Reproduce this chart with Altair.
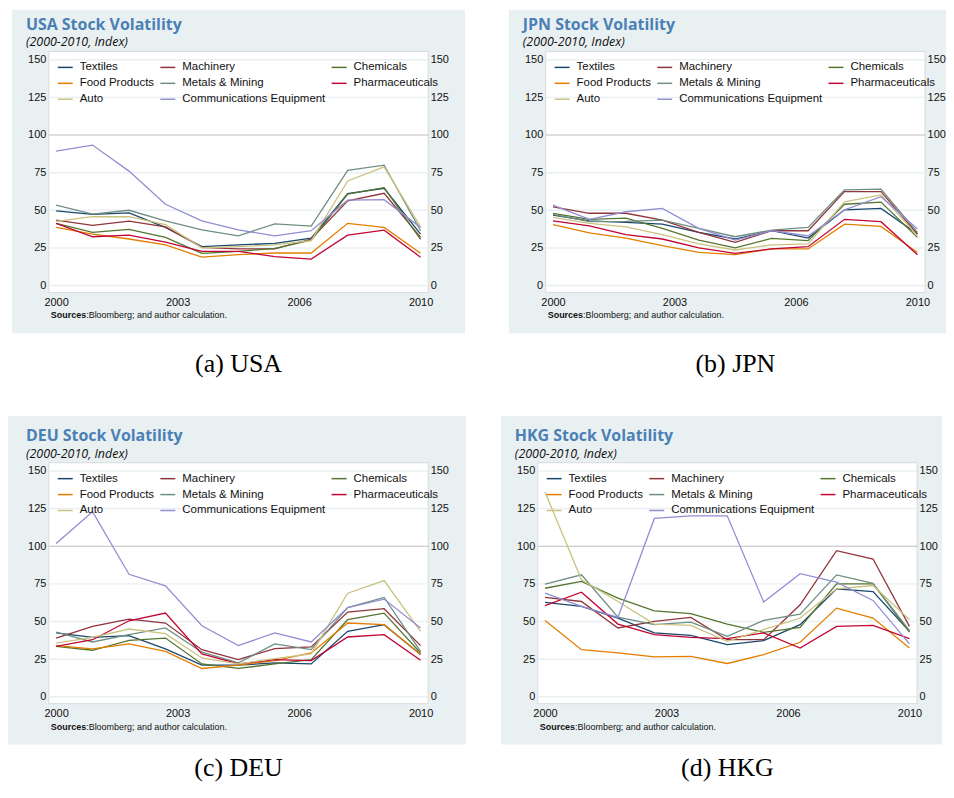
import json
import altair as alt
import pandas as pd

# ---------------- data ----------------
years = list(range(2000, 2011))
sectors = ["Textiles", "Machinery", "Chemicals", "Food Products",
           "Metals & Mining", "Pharmaceuticals", "Auto", "Communications Equipment"]
sector_colors = ["#1a476f", "#90353b", "#55752f", "#e37e00",
                 "#6e8e84", "#c10534", "#cac27e", "#938dd2"]
x_tick_labels = ["2000", "2003", "2006", "2010"]
y_tick_values = [0, 25, 50, 75, 100, 125, 150]
grid_values = [0, 25, 50, 75, 125, 150]
ref_values = [100]
countries = ["USA", "JPN", "DEU", "HKG"]
captions = ["(a) USA", "(b) JPN", "(c) DEU", "(d) HKG"]
subtitle_text = "(2000-2010, Index)"
source_label = "Sources"
source_text = ":Bloomberg; and author calculation."

usa_textiles = [49.6, 47.2, 48.3, 38.6, 25.8, 27.0, 28.0, 31.5, 61.0, 64.6, 34.2]
usa_machinery = [43.5, 40.0, 42.8, 39.0, 25.4, 24.3, 24.3, 30.9, 56.3, 61.3, 32.0]
usa_chemicals = [41.3, 35.3, 37.3, 32.0, 21.4, 22.7, 24.7, 30.2, 60.7, 65.0, 30.7]
usa_food = [38.6, 34.2, 30.9, 27.0, 18.8, 20.5, 21.6, 21.6, 41.3, 38.6, 21.4]
usa_metals = [53.4, 47.4, 50.0, 43.0, 37.0, 33.0, 41.0, 39.5, 76.5, 80.0, 36.4]
usa_pharma = [41.3, 32.4, 33.5, 28.9, 22.7, 22.7, 19.2, 17.6, 33.5, 36.8, 18.8]
usa_auto = [42.6, 45.7, 45.7, 40.4, 25.0, 25.8, 27.0, 29.8, 69.5, 78.8, 39.0]
usa_comm = [89.3, 93.3, 76.0, 54.0, 43.0, 37.0, 33.0, 36.4, 56.7, 57.0, 38.6]

jpn_textiles = [46.8, 43.0, 42.0, 40.8, 35.3, 30.9, 36.4, 31.5, 50.3, 51.2, 34.2]
jpn_machinery = [52.3, 48.0, 48.0, 43.5, 35.3, 28.7, 36.4, 36.4, 62.4, 62.4, 34.2]
jpn_chemicals = [47.9, 44.0, 44.8, 38.0, 30.2, 25.0, 31.3, 29.8, 54.0, 55.4, 32.0]
jpn_food = [40.4, 34.9, 31.5, 26.5, 22.0, 20.5, 24.3, 24.3, 40.8, 39.3, 22.0]
jpn_metals = [47.2, 42.4, 42.6, 43.5, 38.0, 32.4, 36.8, 38.6, 63.5, 64.0, 35.3]
jpn_pharma = [43.0, 39.7, 33.8, 30.9, 25.0, 21.4, 24.3, 25.8, 44.0, 42.4, 20.5]
jpn_auto = [45.2, 41.3, 39.0, 33.8, 27.6, 23.6, 27.0, 27.6, 55.6, 60.2, 33.0]
jpn_comm = [53.4, 44.0, 49.0, 51.2, 38.0, 30.2, 36.4, 32.9, 50.3, 59.0, 37.5]

deu_textiles = [42.4, 39.5, 40.6, 31.8, 21.0, 21.0, 22.5, 21.8, 43.5, 47.9, 28.0]
deu_machinery = [39.0, 46.8, 51.6, 49.0, 31.3, 24.7, 32.0, 33.1, 56.3, 58.5, 34.0]
deu_chemicals = [33.5, 30.9, 37.5, 39.0, 21.8, 18.8, 21.8, 24.7, 51.2, 55.6, 29.1]
deu_food = [34.0, 31.8, 35.1, 30.2, 18.8, 21.0, 24.0, 29.1, 49.0, 47.9, 28.0]
deu_metals = [43.0, 36.4, 41.3, 45.7, 29.6, 22.5, 35.1, 31.3, 59.3, 66.0, 30.2]
deu_pharma = [33.5, 37.9, 50.5, 55.6, 28.5, 21.8, 24.7, 24.0, 39.7, 41.3, 24.3]
deu_auto = [35.7, 39.5, 45.0, 41.9, 25.8, 21.8, 25.4, 28.5, 68.8, 77.2, 43.5]
deu_comm = [101.9, 122.9, 81.4, 73.7, 47.2, 34.0, 42.4, 36.4, 59.3, 64.9, 45.7]

hkg_textiles = [62.7, 60.0, 52.3, 42.4, 40.8, 34.6, 37.3, 47.9, 71.7, 69.9, 43.5]
hkg_machinery = [66.0, 63.3, 45.7, 50.1, 52.7, 37.9, 37.9, 61.1, 97.1, 91.5, 46.8]
hkg_chemicals = [72.1, 76.6, 65.5, 57.1, 55.2, 48.3, 42.8, 46.1, 75.0, 75.0, 43.0]
hkg_food = [50.7, 31.3, 29.1, 26.5, 26.9, 22.1, 28.0, 36.2, 58.9, 52.3, 32.4]
hkg_metals = [74.8, 81.0, 52.9, 47.9, 49.6, 40.2, 50.7, 54.9, 81.0, 75.4, 43.9]
hkg_pharma = [60.5, 69.5, 48.3, 41.3, 39.5, 38.6, 42.4, 32.4, 46.8, 47.4, 38.6]
hkg_auto = [136.0, 77.7, 63.3, 48.3, 47.4, 36.8, 44.6, 52.3, 71.7, 73.9, 51.2]
hkg_comm = [68.8, 60.0, 52.7, 118.5, 120.2, 120.2, 62.9, 81.8, 76.1, 64.0, 35.1]

usa = [usa_textiles, usa_machinery, usa_chemicals, usa_food, usa_metals, usa_pharma, usa_auto, usa_comm]
jpn = [jpn_textiles, jpn_machinery, jpn_chemicals, jpn_food, jpn_metals, jpn_pharma, jpn_auto, jpn_comm]
deu = [deu_textiles, deu_machinery, deu_chemicals, deu_food, deu_metals, deu_pharma, deu_auto, deu_comm]
hkg = [hkg_textiles, hkg_machinery, hkg_chemicals, hkg_food, hkg_metals, hkg_pharma, hkg_auto, hkg_comm]

# ---------------- style ----------------
W, H = 381, 242
XMIN, XMAX = 1999.80, 2010.21
YMIN, YMAX = -4.6, 155.5
BG = "#e9f0f2"
TITLE_COLOR = "#4a80b5"
SANS = "Liberation Sans"

x_tick_values = [years[0] + i * (years[-1] - years[0]) / (len(x_tick_labels) - 1)
                 for i in range(len(x_tick_labels))]
x_label_expr = (json.dumps(x_tick_labels).replace('"', "'")
                + "[round((datum.value - %d) * %f)]" % (years[0], (len(x_tick_labels) - 1) / (years[-1] - years[0])))


def text_layer(txt, x, y, **kw):
    return alt.Chart(pd.DataFrame({"t": [txt]})).mark_text(**kw).encode(
        text="t:N", x=alt.value(x), y=alt.value(y))


def panel(country, series, caption, bg_left, bg_top, bg_right, cap_y):
    rows = []
    for s, vals in zip(sectors, series):
        for yr, v in zip(years, vals):
            rows.append({"year": yr, "value": v, "sector": s})
    df = pd.DataFrame(rows)
    one = pd.DataFrame({"k": [0]})
    xsc = alt.Scale(domain=[XMIN, XMAX], nice=False, zero=False)
    ysc = alt.Scale(domain=[YMIN, YMAX], nice=False, zero=False)

    bg = alt.Chart(one).mark_rect(fill=BG, strokeWidth=0).encode(
        x=alt.value(-bg_left), x2=alt.value(W + bg_right),
        y=alt.value(-bg_top), y2=alt.value(H + 41))
    box = alt.Chart(one).mark_rect(fill="white", stroke="#d6dadb", strokeWidth=1).encode(
        x=alt.value(0), x2=alt.value(W), y=alt.value(0), y2=alt.value(H))

    axis_common = dict(domain=False, ticks=False, grid=False, title=None,
                       labelFont=SANS, labelFontSize=11, labelColor="#111111",
                       zindex=1, labelOverlap=False, labelFlush=False)

    grid = alt.Chart(pd.DataFrame({"v": grid_values})).mark_rule(
        color="#eaf0f2", strokeWidth=1.5).encode(
        y=alt.Y("v:Q", scale=ysc,
                axis=alt.Axis(orient="right", values=y_tick_values, labelPadding=2, **axis_common)))
    ref = alt.Chart(pd.DataFrame({"v": ref_values})).mark_rule(
        color="#bcbcbc", strokeWidth=1).encode(
        y=alt.Y("v:Q", scale=ysc, axis=None))

    lines = alt.Chart(df).mark_line(strokeWidth=1.3).encode(
        x=alt.X("year:Q", scale=xsc,
                axis=alt.Axis(values=x_tick_values, labelExpr=x_label_expr,
                              labelPadding=4, **axis_common)),
        y=alt.Y("value:Q", scale=ysc,
                axis=alt.Axis(orient="left", values=y_tick_values, labelPadding=3, **axis_common)),
        color=alt.Color("sector:N", sort=sectors,
                        scale=alt.Scale(domain=sectors, range=sector_colors),
                        legend=alt.Legend(orient="none", legendX=8, legendY=7.5, columns=3,
                                          direction="horizontal",
                                          title=None, symbolType="stroke", symbolSize=225,
                                          symbolStrokeWidth=1.5, labelFont=SANS,
                                          labelFontSize=11.5, labelColor="#111111",
                                          labelOffset=6, columnPadding=3, rowPadding=2,
                                          padding=0, labelLimit=300, gridAlign="each")),
    )

    title = text_layer(country + " Stock Volatility", -23, -21.5, align="left", baseline="alphabetic",
                       font="Open Sans", fontWeight="bold", fontSize=16, color=TITLE_COLOR)
    sub = text_layer(subtitle_text, -23, -5, align="left", baseline="alphabetic",
                     font="Open Sans", fontStyle="italic", fontSize=12.5, color="#111111")
    src1 = text_layer(source_label, 2, H + 26, align="left", baseline="alphabetic",
                      font=SANS, fontWeight="bold", fontSize=9, color="#111111")
    src2 = text_layer(source_text, 37.5, H + 26, align="left", baseline="alphabetic",
                      font=SANS, fontSize=9, color="#111111")
    cap = text_layer(caption, W / 2, H + cap_y, align="center", baseline="alphabetic",
                     font="Liberation Serif", fontSize=26, color="#000000")

    return alt.layer(bg, box, grid, ref, lines, title, sub, src1, src2, cap).resolve_scale(
        y="independent").resolve_axis(y="independent").properties(width=W, height=H)


p_usa = panel(countries[0], usa, captions[0], 37, 42, 37, 80)
p_jpn = panel(countries[1], jpn, captions[1], 37, 42, 21, 80)
p_deu = panel(countries[2], deu, captions[2], 41, 47, 38, 73)
p_hkg = panel(countries[3], hkg, captions[3], 37, 47, 25, 73)

top = alt.hconcat(p_usa, p_jpn, spacing=44).resolve_scale(color="independent").resolve_legend(color="independent")
bottom = alt.hconcat(p_deu, p_hkg, spacing=35).resolve_scale(color="independent").resolve_legend(color="independent")

chart = alt.vconcat(top, bottom, spacing=39).resolve_scale(
    color="independent").resolve_legend(color="independent").properties(
    padding=0, background="white").configure_view(strokeWidth=0)

chart.save("out.html", embed_options={"renderer": "svg", "actions": False})
